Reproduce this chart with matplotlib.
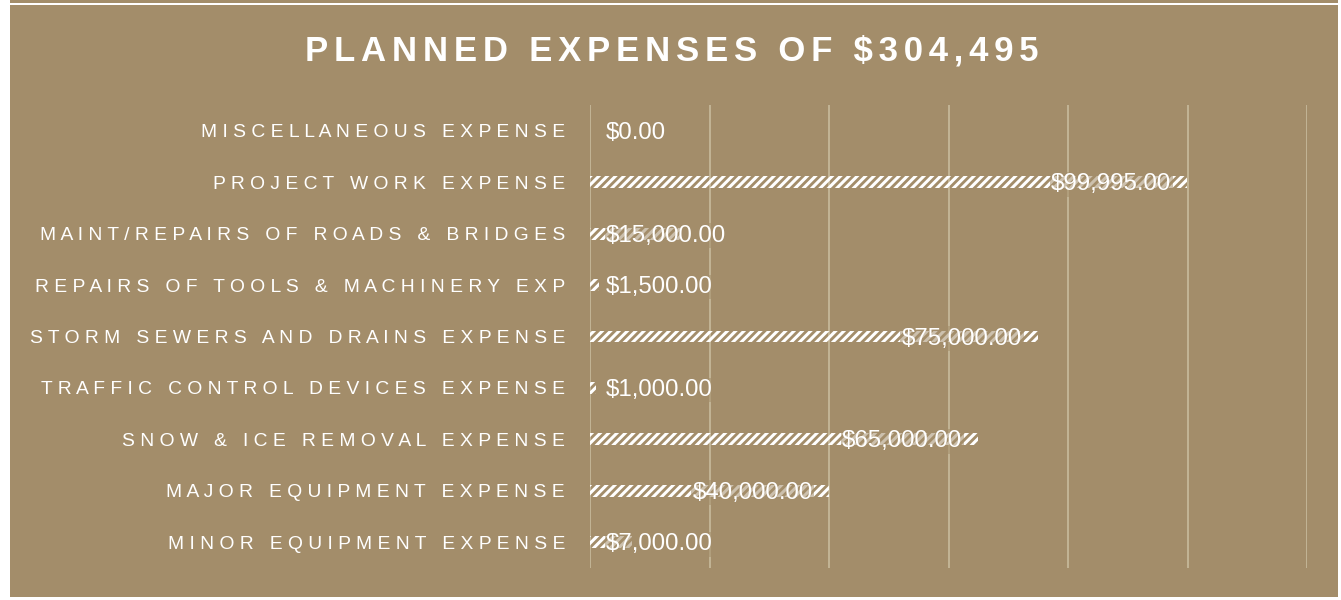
#==========================================
#   PLANNED EXPENSES - horizontal bar chart
#==========================================
import numpy as np
import matplotlib
matplotlib.use('Agg')
import matplotlib.pyplot as plt
from matplotlib.patches import Rectangle

#----- data
categories = ['MISCELLANEOUS EXPENSE', 'PROJECT WORK EXPENSE',
              'MAINT/REPAIRS OF ROADS & BRIDGES', 'REPAIRS OF TOOLS & MACHINERY EXP',
              'STORM SEWERS AND DRAINS EXPENSE', 'TRAFFIC CONTROL DEVICES EXPENSE',
              'SNOW & ICE REMOVAL EXPENSE', 'MAJOR EQUIPMENT EXPENSE',
              'MINOR EQUIPMENT EXPENSE']
values = [0, 99995, 15000, 1500, 75000, 1000, 65000, 40000, 7000]
title = 'PLANNED EXPENSES OF $304,495'
xmax = 120000
xticks = [0, 20000, 40000, 60000, 80000, 100000, 120000]

#----- style
BG = '#A38D6A'
GRID = '#C8BB9D'
plt.rcParams['font.family'] = ['Liberation Sans', 'DejaVu Sans']
plt.rcParams['hatch.linewidth'] = 2.2

DPI = 100
fig = plt.figure(figsize=(1341/DPI, 600/DPI), dpi=DPI, facecolor='white')
# tan panel
fig.patches.append(Rectangle((10/1341, 3/600), 1328/1341, 592/600, transform=fig.transFigure,
                             facecolor=BG, edgecolor='none', zorder=-5))
fig.patches.append(Rectangle((10/1341, 597/600), 1328/1341, 3/600, transform=fig.transFigure,
                             facecolor=BG, edgecolor='none', zorder=-5))

# title with letter spacing (two hair spaces between every character)
fig.text(672/1341, 1-51/600, '\u200a\u200a'.join(title), color='white', fontsize=25,
         fontweight='bold', ha='center', va='center')

ax = fig.add_axes([590/1341, 1-568/600, (1307-590)/1341, (568-105)/600])
ax.set_facecolor('none')
y = np.arange(len(categories))

ax.barh(y, values, height=0.23, color='none', edgecolor='white', linewidth=0,
        hatch='////', zorder=3)

ax.set_xlim(0, xmax)
ax.set_ylim(len(categories)-0.5, -0.5)
ax.set_xticks(xticks)
ax.set_xticklabels([])
ax.grid(axis='x', color=GRID, linewidth=1.2, zorder=0)
ax.tick_params(axis='both', length=0)
for s in ax.spines.values():
    s.set_visible(False)

ax.set_yticks(y)
ax.set_yticklabels([' '.join(c) for c in categories], color='white', fontsize=13.9)
ax.tick_params(axis='y', pad=18)

#----- value labels
for yi, v in zip(y, values):
    txt = '${:,.2f}'.format(v)
    box = dict(facecolor=BG, alpha=0.55, edgecolor='none', pad=1.0)
    if v > 25000:
        ax.annotate(txt, (v, yi), xytext=(-16, -2), textcoords='offset pixels',
                    ha='right', va='center', color='white', fontsize=17.3, bbox=box, zorder=4)
    else:
        ax.annotate(txt, (0, yi), xytext=(16, -2), textcoords='offset pixels',
                    ha='left', va='center', color='white', fontsize=17.3, bbox=box, zorder=4)

plt.savefig('out.png', dpi=DPI, facecolor=fig.get_facecolor())
